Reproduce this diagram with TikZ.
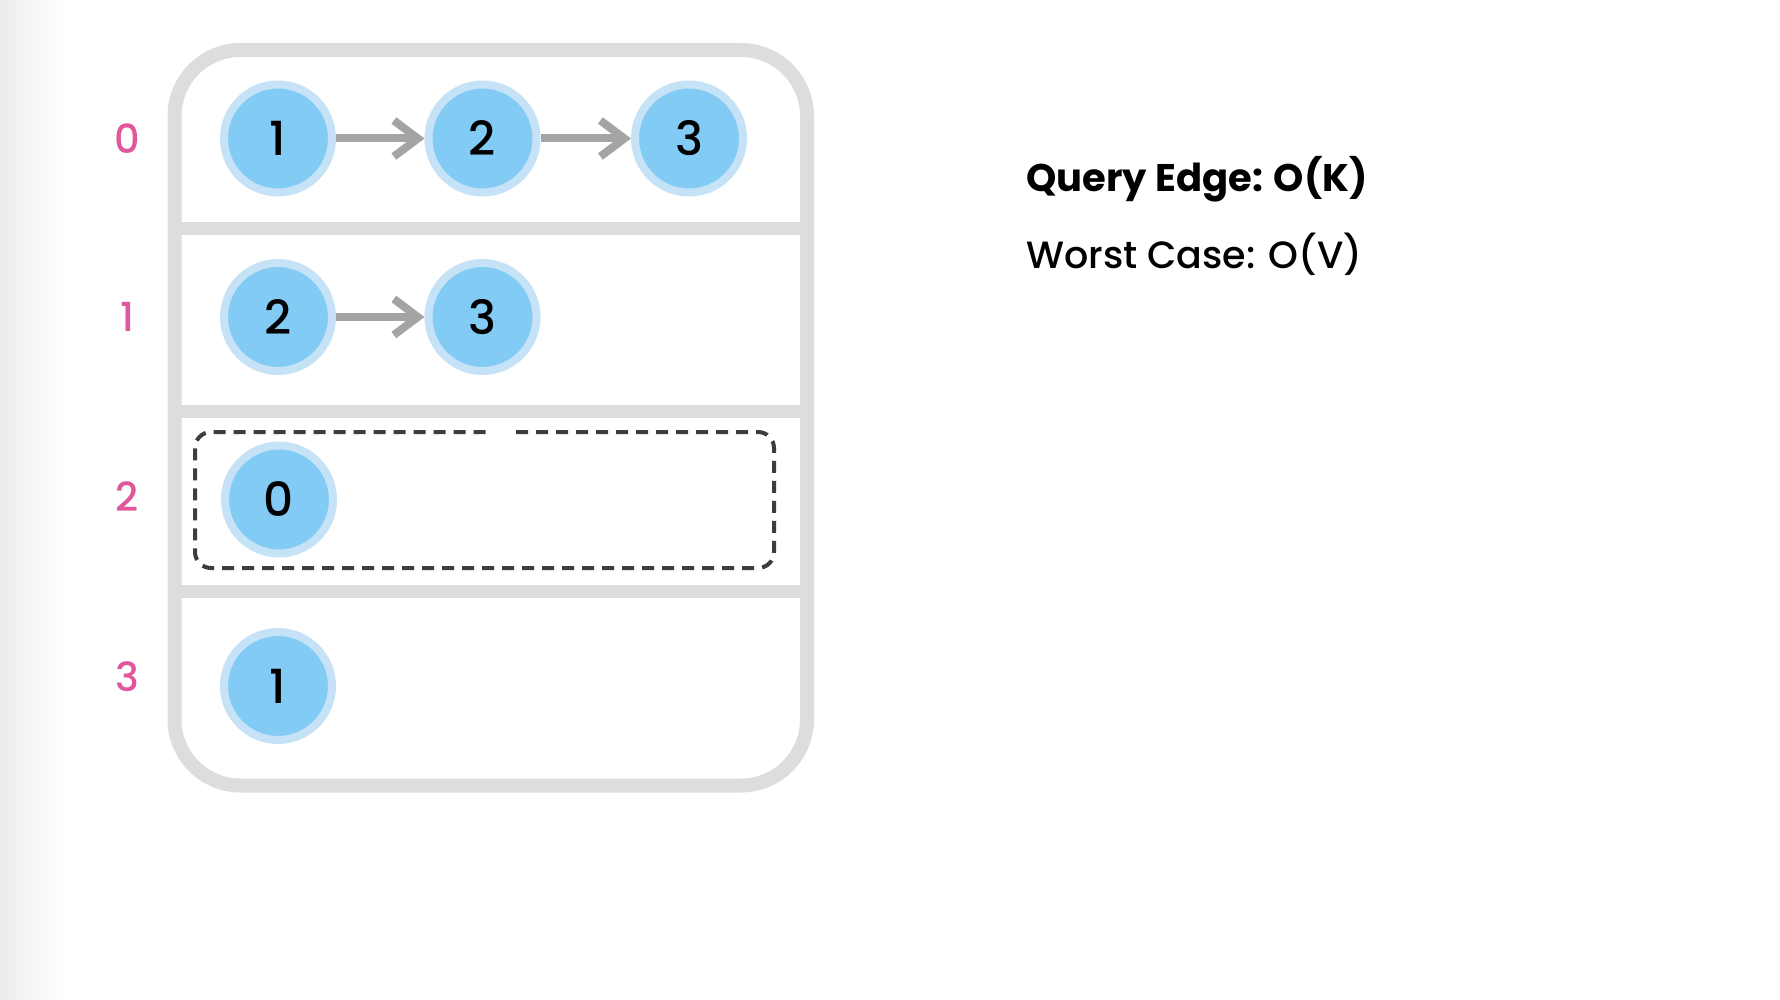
\documentclass[tikz,border=0pt]{standalone}
\usepackage{fontspec}
\setmainfont{Poppins}
\newfontfamily\pmed{Poppins Medium}
\usetikzlibrary{arrows.meta}
\definecolor{boxgray}{HTML}{DCDDDF}
\definecolor{ringblue}{HTML}{C6E2F7}
\definecolor{fillblue}{HTML}{82CBF5}
\definecolor{arrgray}{HTML}{A3A5A4}
\definecolor{idxpink}{HTML}{E0579B}
\definecolor{dashgray}{HTML}{3A3D42}
\definecolor{edgegray}{HTML}{ECECEC}
\tikzset{
  vnode/.style={circle, draw=ringblue, line width=8pt, fill=fillblue, minimum size=108pt, inner sep=0pt, font=\pmed\fontsize{47}{47}\selectfont},
  idx/.style={text=idxpink, font=\pmed\fontsize{40}{40}\selectfont, inner sep=0pt},
  link/.style={arrgray, line width=8pt, -{Straight Barb[length=24pt, width=36pt]}},
  info/.style={anchor=base west, inner sep=0pt, font=\pmed\fontsize{38}{38}\selectfont},
}
\begin{document}
\begin{tikzpicture}[x=1pt, y=-1pt]
\useasboundingbox (0,0) rectangle (1780,1000);
\fill[white] (0,0) rectangle (1780,1000);
\shade[left color=edgegray, right color=white] (0,0) rectangle (65,1000);
% outer box
\draw[boxgray, line width=14pt, rounded corners=66pt] (174.5,50) rectangle (807,785.5);
\draw[boxgray, line width=13pt] (174.5,228.5) -- (807,228.5);
\draw[boxgray, line width=13pt] (174.5,411.5) -- (807,411.5);
\draw[boxgray, line width=13pt] (174.5,591) -- (807,591);
% dashed box
\draw[dashgray, line width=4pt, dash pattern=on 12pt off 8pt, rounded corners=16pt]
  (516,432) -- (774,432) -- (774,568) -- (195,568) -- (195,432) -- (488,432);
% index labels
\node[idx] (i0) at (127,138.5) {0};
\node[idx] (i1) at (127,317) {1};
\node[idx] (i2) at (127,497) {2};
\node[idx] (i3) at (127,677) {3};
% nodes
\node[vnode] (a1) at (278,138.5) {1};
\node[vnode] (a2) at (482.5,138.5) {2};
\node[vnode] (a3) at (689,138.5) {3};
\node[vnode] (b1) at (278,317) {2};
\node[vnode] (b2) at (482.5,317) {3};
\node[vnode] (c1) at (279,499.5) {0};
\node[vnode] (d1) at (278,686) {1};
\draw[link] (a1) -- (a2);
\draw[link] (a2) -- (a3);
\draw[link] (b1) -- (b2);
% text
\node[info, font=\fontsize{38.5}{38.5}\selectfont\bfseries] (q) at (1026,192) {Query Edge: O(K)};
\node[info] (w) at (1026,269) {Worst Case: O(V)};
\end{tikzpicture}
\end{document}
